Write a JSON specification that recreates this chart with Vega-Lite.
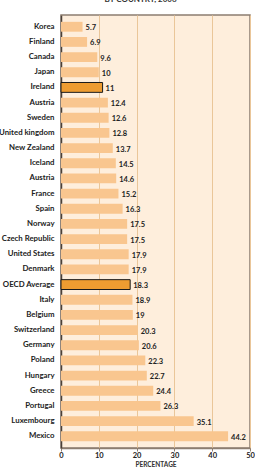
{
  "$schema": "https://vega.github.io/schema/vega-lite/v6.json",
  "width": 189,
  "height": 433,
  "autosize": {"type": "none"},
  "padding": {"left": 61, "top": 15, "right": 5, "bottom": 20},
  "title": {"text": "BY COUNTRY, 2006", "fontSize": 8, "font": "Lato", "fontWeight": "bold", "color": "#333333", "anchor": "middle", "offset": 11, "dx": -15},
  "config": {
    "view": {"fill": "#FEEEDC", "stroke": "#8C7D70", "strokeWidth": 1.5},
    "axis": {"labelFont": "Lato", "titleFont": "Lato", "labelColor": "#222222", "titleColor": "#333333"}
  },
  "data": {"values": [
    {"rank": 1, "country": "Korea", "value": 5.7, "hl": "no"},
    {"rank": 2, "country": "Finland", "value": 6.9, "hl": "no"},
    {"rank": 3, "country": "Canada", "value": 9.6, "hl": "no"},
    {"rank": 4, "country": "Japan", "value": 10, "hl": "no"},
    {"rank": 5, "country": "Ireland", "value": 11, "hl": "yes"},
    {"rank": 6, "country": "Austria", "value": 12.4, "hl": "no"},
    {"rank": 7, "country": "Sweden", "value": 12.6, "hl": "no"},
    {"rank": 8, "country": "United kingdom", "value": 12.8, "hl": "no"},
    {"rank": 9, "country": "New Zealand", "value": 13.7, "hl": "no"},
    {"rank": 10, "country": "Iceland", "value": 14.5, "hl": "no"},
    {"rank": 11, "country": "Austria", "value": 14.6, "hl": "no"},
    {"rank": 12, "country": "France", "value": 15.2, "hl": "no"},
    {"rank": 13, "country": "Spain", "value": 16.3, "hl": "no"},
    {"rank": 14, "country": "Norway", "value": 17.5, "hl": "no"},
    {"rank": 15, "country": "Czech Republic", "value": 17.5, "hl": "no"},
    {"rank": 16, "country": "United States", "value": 17.9, "hl": "no"},
    {"rank": 17, "country": "Denmark", "value": 17.9, "hl": "no"},
    {"rank": 18, "country": "OECD Average", "value": 18.3, "hl": "yes"},
    {"rank": 19, "country": "Italy", "value": 18.9, "hl": "no"},
    {"rank": 20, "country": "Belgium", "value": 19, "hl": "no"},
    {"rank": 21, "country": "Switzerland", "value": 20.3, "hl": "no"},
    {"rank": 22, "country": "Germany", "value": 20.6, "hl": "no"},
    {"rank": 23, "country": "Poland", "value": 22.3, "hl": "no"},
    {"rank": 24, "country": "Hungary", "value": 22.7, "hl": "no"},
    {"rank": 25, "country": "Greece", "value": 24.4, "hl": "no"},
    {"rank": 26, "country": "Portugal", "value": 26.3, "hl": "no"},
    {"rank": 27, "country": "Luxembourg", "value": 35.1, "hl": "no"},
    {"rank": 28, "country": "Mexico", "value": 44.2, "hl": "no"}
  ]},
  "encoding": {
    "y": {
      "field": "rank", "type": "ordinal", "sort": "ascending",
      "scale": {"paddingInner": 0.35, "paddingOuter": 0.45},
      "axis": {
        "title": null, "ticks": false, "domain": true, "domainColor": "#4A4038", "domainWidth": 1.5,
        "labelPadding": 7, "labelFontSize": 7.8, "labelFontWeight": "bold",
        "labelExpr": "['Korea','Finland','Canada','Japan','Ireland','Austria','Sweden','United kingdom','New Zealand','Iceland','Austria','France','Spain','Norway','Czech Republic','United States','Denmark','OECD Average','Italy','Belgium','Switzerland','Germany','Poland','Hungary','Greece','Portugal','Luxembourg','Mexico'][datum.value - 1]"
      }
    },
    "x": {
      "field": "value", "type": "quantitative",
      "scale": {"domain": [0, 50], "nice": false},
      "axis": {
        "values": [0, 10, 20, 30, 40, 50], "grid": true, "gridColor": "#EAC699", "gridWidth": 1,
        "labelOverlap": false, "labelFlush": false,
        "domainColor": "#8C7D70", "domainWidth": 1.5, "tickColor": "#8C7D70", "tickSize": 3,
        "labelFontSize": 7.5, "labelPadding": 0, "labelFontWeight": "bold",
        "title": "PERCENTAGE", "titleFontSize": 6.5, "titleFontWeight": "bold", "titlePadding": 3
      }
    }
  },
  "layer": [
    {
      "mark": {"type": "bar"},
      "encoding": {
        "color": {"field": "hl", "type": "nominal", "scale": {"domain": ["no", "yes"], "range": ["#F9C68F", "#EE9C31"]}, "legend": null},
        "stroke": {"field": "hl", "type": "nominal", "scale": {"domain": ["no", "yes"], "range": ["transparent", "#1A1A1A"]}, "legend": null}
      }
    },
    {
      "mark": {"type": "text", "align": "left", "baseline": "middle", "dx": 3, "dy": 1.5, "fontSize": 7.5, "font": "Lato", "fontWeight": "bold", "color": "#222222"},
      "encoding": {
        "text": {"field": "value", "type": "quantitative"}
      }
    }
  ]
}
